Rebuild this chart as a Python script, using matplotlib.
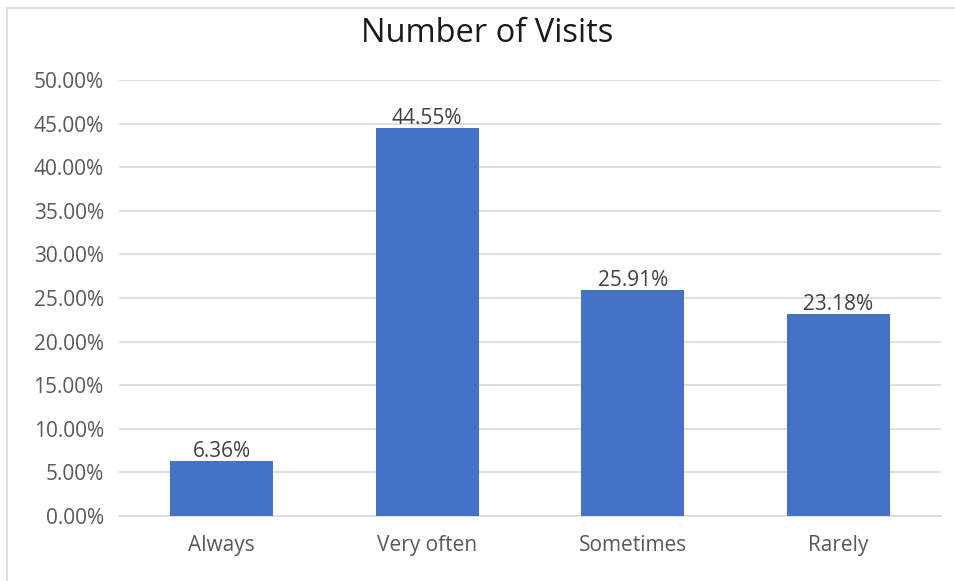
import matplotlib.pyplot as plt
from matplotlib.patches import Rectangle
from matplotlib.ticker import FuncFormatter, MultipleLocator

categories = ["Always", "Very often", "Sometimes", "Rarely"]
shares = [6.36, 44.55, 25.91, 23.18]  # percent of respondents

BAR_COLOR = "#4472C4"
TEXT_COLOR = "#595959"
GRID_COLOR = "#D9D9D9"

plt.rcParams["font.family"] = ["Open Sans", "DejaVu Sans"]

fig = plt.figure(figsize=(9.55, 5.81), dpi=100)
ax = fig.add_axes([0.1246, 0.1119, 0.8607, 0.7504])

# chart frame (only the top and left edges fall inside the canvas)
fig.patches.append(Rectangle((7 / 955, -0.1), 1.2, (581 - 8) / 581 + 0.1,
                             transform=fig.transFigure, fill=False,
                             edgecolor=GRID_COLOR, linewidth=1.2))

x = range(len(categories))
bars = ax.bar(x, shares, width=0.5, color=BAR_COLOR, zorder=3)

for rect, val in zip(bars, shares):
    ax.annotate(f"{val:.2f}%", (rect.get_x() + rect.get_width() / 2, val),
                xytext=(0, -1), textcoords="offset points",
                ha="center", va="bottom", fontsize=15, color="#404040")

ax.set_xlim(-0.5, len(categories) - 0.5)
ax.set_ylim(0, 50)
ax.yaxis.set_major_locator(MultipleLocator(5))
ax.yaxis.set_major_formatter(FuncFormatter(lambda v, _: f"{v:.2f}%"))
ax.set_xticks(list(x))
ax.set_xticklabels(categories)

ax.grid(axis="y", color=GRID_COLOR, linewidth=1.2, zorder=0)
for side in ["top", "right", "left"]:
    ax.spines[side].set_visible(False)
ax.spines["bottom"].set_color(GRID_COLOR)
ax.spines["bottom"].set_linewidth(1.2)
ax.tick_params(axis="both", length=0, labelsize=15, colors=TEXT_COLOR)
ax.tick_params(axis="y", pad=11)
ax.tick_params(axis="x", pad=14)

fig.text(487 / 955, 1 - 34 / 581, "Number of Visits", ha="center", va="center",
         fontsize=23.5, color="#1a1a1a")

fig.savefig("out.png", dpi=100)
